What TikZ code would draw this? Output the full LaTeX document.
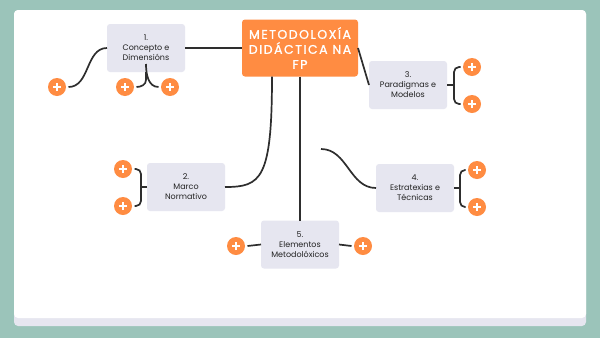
\documentclass[tikz,border=0pt]{standalone}
\usepackage{fontspec}
\setmainfont{Poppins}
\newfontfamily\titlefont[LetterSpace=12, FakeBold=1.2]{Poppins}
\usetikzlibrary{positioning}

\definecolor{bgteal}{HTML}{9BC4BA}
\definecolor{mmorange}{HTML}{FF8C42}
\definecolor{cardgrey}{HTML}{E6E6F0}
\definecolor{linedark}{HTML}{2E2E2E}
\definecolor{textdark}{HTML}{222222}

\begin{document}
\begin{tikzpicture}[
    x=1pt, y=-1pt,
    topic/.style={fill=cardgrey, rounded corners=3pt, minimum width=78pt, minimum height=48pt, align=center, inner sep=1pt, outer sep=0pt, text=textdark, font=\fontsize{8}{10}\selectfont},
    title/.style={fill=mmorange, rounded corners=3pt, minimum width=116pt, minimum height=57pt, align=center, inner sep=1pt, outer sep=0pt, text=white, font=\titlefont\fontsize{12.5}{15}\selectfont},
    plusbtn/.style={circle, fill=mmorange, minimum size=18pt, inner sep=0pt, outer sep=2.5pt,
        path picture={\draw[white, line width=1.4pt]
            ([xshift=-4pt]path picture bounding box.center) -- ([xshift=4pt]path picture bounding box.center)
            ([yshift=-4pt]path picture bounding box.center) -- ([yshift=4pt]path picture bounding box.center);}},
    link/.style={draw=linedark, line width=1.7pt},
    brace/.style={link, rounded corners=5pt}
]
\useasboundingbox (0,0) rectangle (600,338);
\fill[bgteal] (0,0) rectangle (600,338);
% card
\fill[cardgrey, rounded corners=4pt] (14,10) rectangle (586,326);
\fill[white, rounded corners=4pt] (14,10) rectangle (586,318);
\fill[white] (14,300) rectangle (586,314);

% nodes
\node[title] (title) at (300,48) {METODOLOXÍA\\DIDÁCTICA NA\\FP};
\node[topic, left=57pt of title] (c1) {1.\\Concepto e\\Dimensións};
\node[topic, below right=13pt and 11pt of title.east, anchor=north west] (c3) {3.\\Paradigmas e\\Modelos};
\node[topic] (c2) at (186,187) {2.\\Marco\\Normativo};
\node[topic] (c4) at (415,188) {4.\\Estratexias e\\Técnicas};
\node[topic, below=144pt of title] (c5) {5.\\Elementos\\Metodolóxicos};

\node[plusbtn] (p1a) at (57,87) {};
\node[plusbtn] (p1b) at (125,87) {};
\node[plusbtn] (p1c) at (170,87) {};
\node[plusbtn] (p3a) at (472,67) {};
\node[plusbtn] (p3b) at (472,104) {};
\node[plusbtn] (p2a) at (123,169) {};
\node[plusbtn] (p2b) at (123,206) {};
\node[plusbtn] (p4a) at (477,170) {};
\node[plusbtn] (p4b) at (477,207) {};
\node[plusbtn] (p5a) at (236,246) {};
\node[plusbtn] (p5b) at (363,246) {};

\coordinate (c4tail) at (321,149);

% main links
\draw[link] (c1) -- (title);
\draw[link] (title.east) -- (c3.west);
\draw[link] (title.south) -- (c5.north);
\draw[link] ([xshift=-28pt]title.south) .. controls +(0,103) and +(36,0) .. (c2.east);
\draw[link] (c4tail) to[out=0, in=180] (c4.west);

% sub links
\draw[link] (c1.west) to[out=180, in=0] (p1a.east);
\draw[link] (c1.south) -- ++(0,8) to[out=-90, in=0] (p1b.east);
\draw[link] ([yshift=8pt]c1.south) to[out=-90, in=180] (p1c.west);
\draw[brace] (p3a.west) -| ([xshift=7pt]c3.east) |- (p3b.west);
\draw[link] (c3.east) -- ([xshift=7pt]c3.east);
\draw[brace] (p2a.east) -| ([xshift=-6pt]c2.west) |- (p2b.east);
\draw[link] (c2.west) -- ([xshift=-6pt]c2.west);
\draw[brace] (p4a.west) -| ([xshift=6pt]c4.east) |- (p4b.west);
\draw[link] (c4.east) -- ([xshift=6pt]c4.east);
\draw[link] (p5a.east) -- (c5.west);
\draw[link] (c5.east) -- (p5b.west);
\end{tikzpicture}
\end{document}
